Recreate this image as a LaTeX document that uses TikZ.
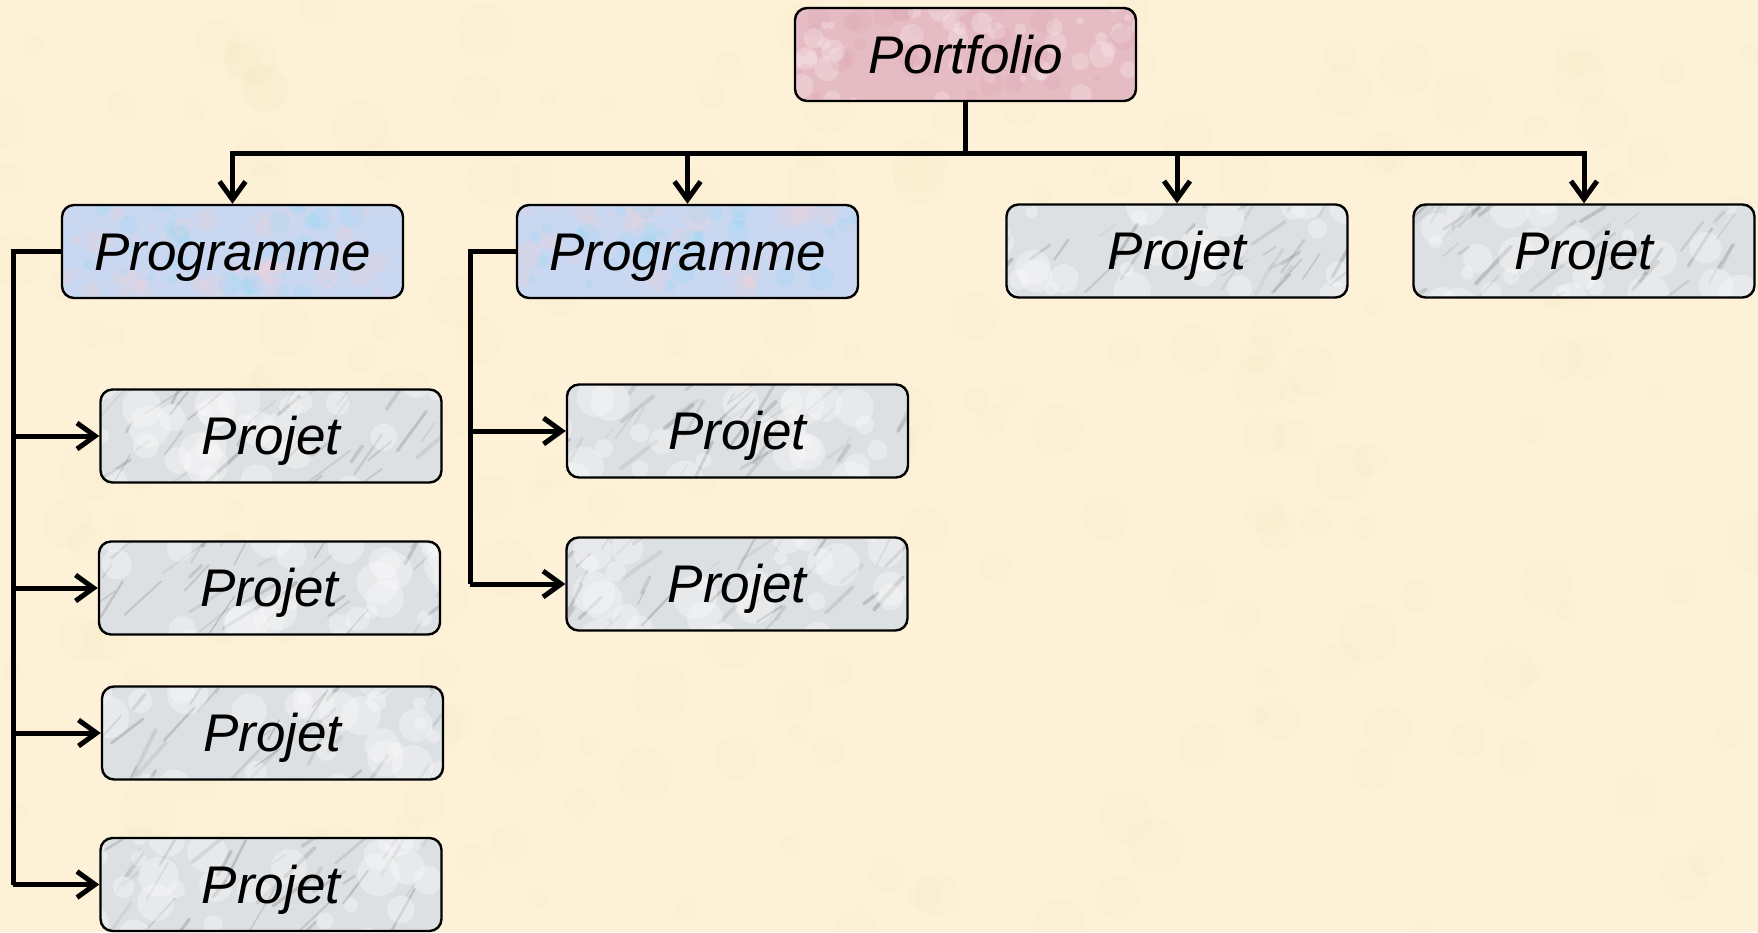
\documentclass[tikz,border=0pt]{standalone}
\usepackage{fontspec}
\setmainfont{Liberation Sans}
\usetikzlibrary{arrows.meta}
\definecolor{parchment}{HTML}{FDF2D8}
\definecolor{parchdark}{HTML}{F3E0B2}
\definecolor{projfill}{HTML}{DDE0E3}
\definecolor{progfill}{HTML}{C9D7F0}
\definecolor{portfill}{HTML}{E6BCC4}
\definecolor{portdark}{HTML}{D9A2AE}
\tikzset{
  box/.style={draw=black, line width=2.4pt, rounded corners=12pt,
    minimum width=341pt, minimum height=93pt, inner sep=0pt,
    text height=37.6pt, text depth=0pt,
    font=\fontsize{53}{60}\selectfont\itshape},
  marble/.style={box, fill=projfill, path picture={
    \pgfmathsetseed{#1}
    \foreach \k in {1,...,40}{
      \pgfmathsetmacro\px{rnd*380-20}
      \pgfmathsetmacro\py{rnd*110-10}
      \pgfmathsetmacro\ln{12+rnd*40}
      \pgfmathsetmacro\an{30+rnd*35}
      \pgfmathsetmacro\op{0.08+rnd*0.22}
      \pgfmathsetmacro\lw{1+rnd*3}
      \draw[line width=\lw pt, line cap=round, black!60, opacity=\op]
        ([xshift=\px pt, yshift=\py pt]path picture bounding box.south west)
        -- ++(\an:\ln pt);
    }
    \foreach \k in {1,...,30}{
      \pgfmathsetmacro\px{rnd*380-20}
      \pgfmathsetmacro\py{rnd*110-10}
      \pgfmathsetmacro\rr{6+rnd*16}
      \fill[white, opacity=0.3]
        ([xshift=\px pt, yshift=\py pt]path picture bounding box.south west)
        circle[radius=\rr pt];
    }}},
  mottle/.style n args={4}{box, fill=#1, path picture={
    \pgfmathsetseed{#4}
    \foreach \k in {1,...,80}{
      \pgfmathsetmacro\px{rnd*360}
      \pgfmathsetmacro\py{rnd*100}
      \pgfmathsetmacro\rr{3+rnd*10}
      \pgfmathsetmacro\cc{rnd}
      \ifdim\cc pt<0.5pt
        \fill[#2, opacity=0.22]
          ([xshift=\px pt, yshift=\py pt]path picture bounding box.south west) circle[radius=\rr pt];
      \else
        \fill[#3, opacity=0.22]
          ([xshift=\px pt, yshift=\py pt]path picture bounding box.south west) circle[radius=\rr pt];
      \fi
    }}},
  conn/.style={line width=5pt, line join=miter},
  tip/.style={-{Straight Barb[length=18pt, width=26pt]}},
}
\begin{document}
\begin{tikzpicture}[x=1pt, y=-1pt]
  \useasboundingbox (0,0) rectangle (1758,932);
  % parchment background
  \fill[parchment] (0,0) rectangle (1758,932);
  \begin{scope}
    \clip (0,0) rectangle (1758,932);
    \pgfmathsetseed{7}
    \foreach \k in {1,...,220}{
      \pgfmathsetmacro\bx{rnd*1758}
      \pgfmathsetmacro\by{rnd*932}
      \pgfmathsetmacro\br{8+rnd*22}
      \fill[parchdark, opacity=0.10] (\bx,\by) circle[radius=\br pt];
    }
  \end{scope}

  % top level
  \node[mottle={portfill}{portdark}{white}{3}] (port) at (965.5,54.5) {Portfolio};

  % second level
  \node[mottle={progfill}{pink!70}{cyan!45}{11}] (progA) at (232.5,251.5) {Programme};
  \node[mottle={progfill}{pink!70}{cyan!45}{12}] (progB) at (687.5,251.5) {Programme};
  \node[marble=21] (pr3) at (1177,251) {Projet};
  \node[marble=22] (pr4) at (1584,251) {Projet};

  % projects of the first programme
  \node[marble=31] (a1) at (271,436) {Projet};
  \node[marble=32] (a2) at (269.5,588) {Projet};
  \node[marble=33] (a3) at (272.5,733) {Projet};
  \node[marble=34] (a4) at (271,884.5) {Projet};

  % projects of the second programme
  \node[marble=41] (b1) at (737.5,431) {Projet};
  \node[marble=42] (b2) at (737,584) {Projet};

  % distribution bar under the portfolio
  \coordinate (bar) at (965.5,153);
  \draw[conn] (port.south) -- (bar);
  \draw[conn, line cap=rect] (bar -| progA) -- (bar -| pr4);
  \foreach \n in {progA,progB,pr3,pr4}
    \draw[conn, tip] (bar -| \n) -- (\n.north);

  % spine of the first programme
  \coordinate (spA) at (13,0);
  \draw[conn] (progA.west) -- (progA.west -| spA) -- (spA |- a4);
  \foreach \n in {a1,a2,a3,a4}
    \draw[conn, tip] (spA |- \n) -- (\n.west);

  % spine of the second programme
  \coordinate (spB) at (470,0);
  \draw[conn] (progB.west) -- (progB.west -| spB) -- (spB |- b2);
  \foreach \n in {b1,b2}
    \draw[conn, tip] (spB |- \n) -- (\n.west);
\end{tikzpicture}
\end{document}
